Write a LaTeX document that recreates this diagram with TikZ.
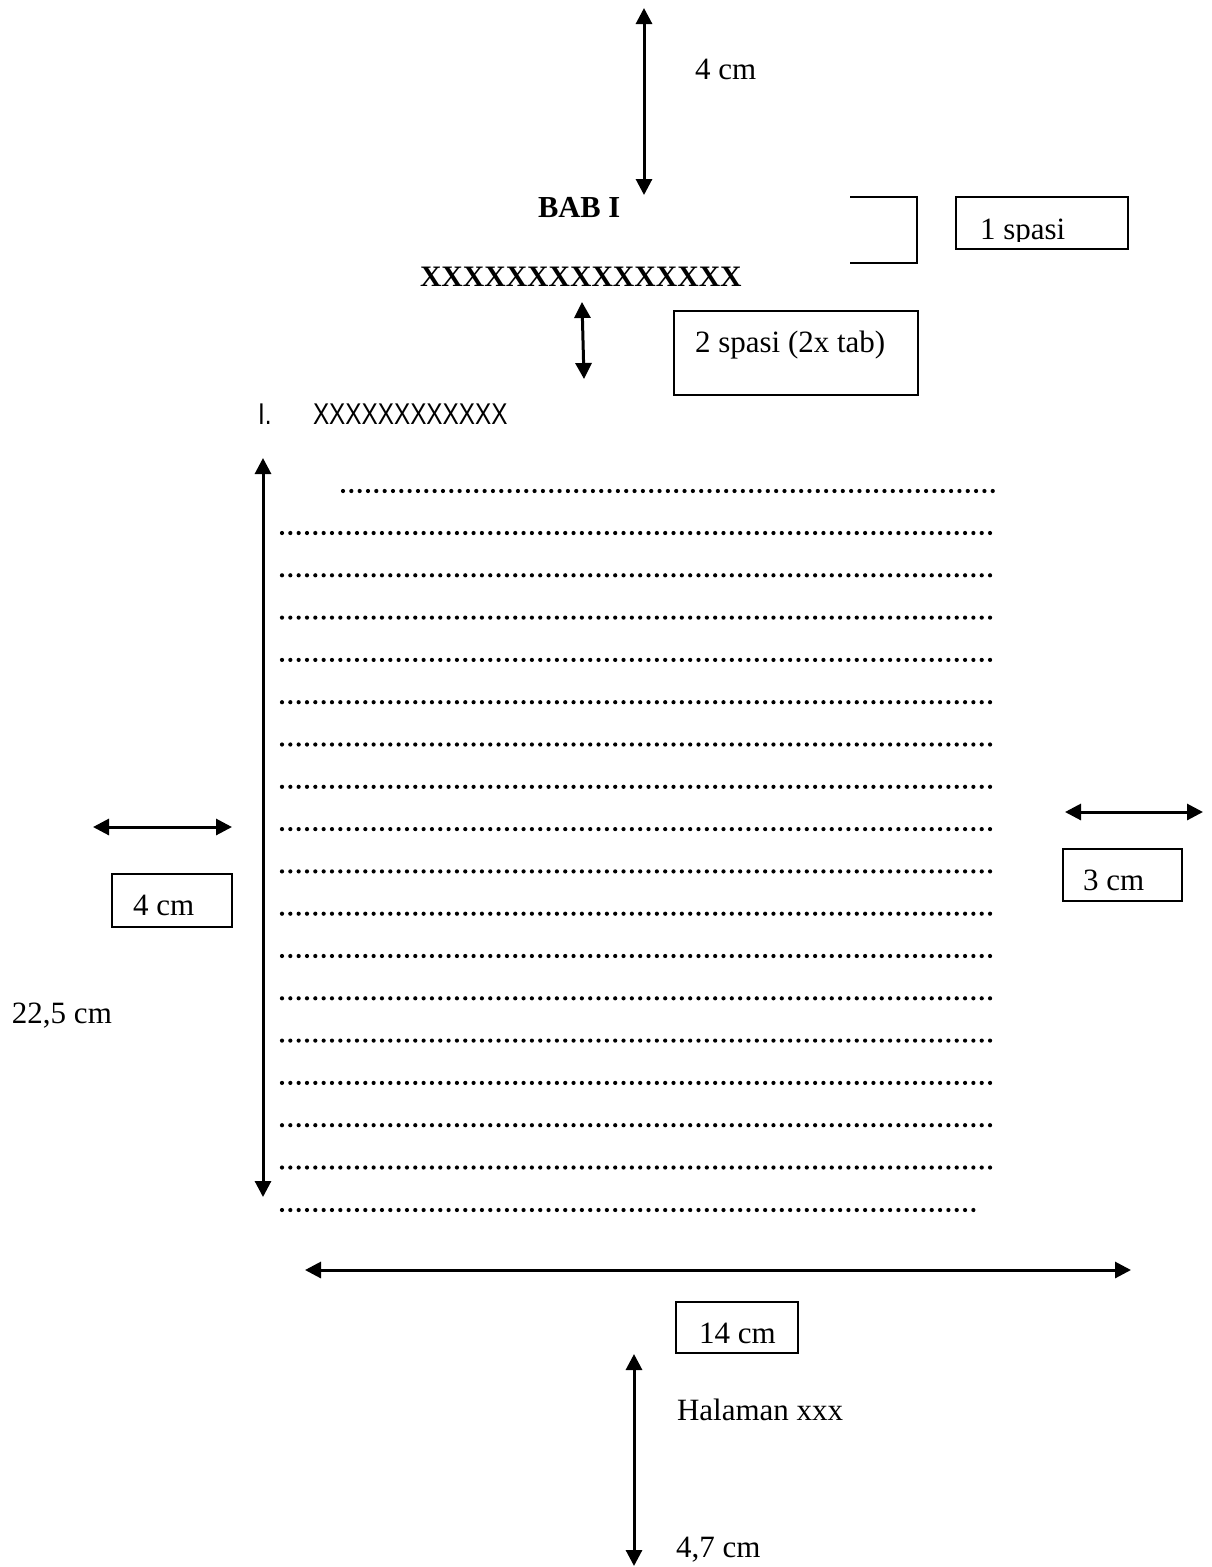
\documentclass[tikz,border=0pt]{standalone}
\usepackage{fontspec}
\usepackage{graphicx}
\setmainfont{Liberation Serif}
\newfontfamily\arialfont{Liberation Sans}
\usetikzlibrary{arrows.meta}
\tikzset{
  dimarrow/.style={line width=3pt, {Triangle[length=16pt,width=16pt]}-{Triangle[length=16pt,width=16pt]}},
  box/.style={draw, line width=1.5pt, inner sep=0pt, outer sep=0pt, anchor=north west},
  lbl/.style={anchor=base west, inner sep=0pt, outer sep=0pt, font=\fontsize{31}{36}\selectfont},
  bold/.style={anchor=base west, inner sep=0pt, outer sep=0pt, font=\fontsize{30.5}{36}\selectfont\bfseries},
  sanslbl/.style={anchor=base west, inner sep=0pt, outer sep=0pt, font=\fontsize{30}{34}\selectfont\arialfont},
  dotrow/.style={line width=4.2pt, line cap=round, dash pattern=on 0pt off 8.33pt},
  bracket/.style={line width=1.5pt},
}
\begin{document}
\begin{tikzpicture}[x=1pt, y=-1pt]
\useasboundingbox[fill=white] (0,0) rectangle (1212,1567);

% ---- top margin arrow ----
\coordinate (topA) at (644,8);
\coordinate (topB) at (644,195);
\draw[dimarrow] (topA) -- (topB);
\node[lbl] (top4cm) at (695,79) {4 cm};

% ---- title ----
\node[bold] (bab) at (538,217) {BAB I};
\node[bold, font=\fontsize{29.7}{36}\selectfont\bfseries] (judul) at (420,286) {XXXXXXXXXXXXXXX};

% ---- bracket and 1 spasi ----
\coordinate (brA) at (850,197);
\coordinate (brB) at (917,197);
\coordinate (brC) at (917,263);
\coordinate (brD) at (850,263);
\draw[bracket] (brA) -- (brB) -- (brC) -- (brD);
\node[box, minimum width=172pt, minimum height=52pt] (box1) at (956,197) {};
\begin{scope}
  \clip (956,197) rectangle (1128,241);
  \node[lbl] (spasi1) at (980,239) {1 spasi};
\end{scope}

% ---- 2 spasi ----
\coordinate (smA) at (582,302);
\coordinate (smB) at (584,379);
\draw[dimarrow] (smA) -- (smB);
\node[box, minimum width=244pt, minimum height=84pt] (box2) at (674,311) {};
\node[lbl] (spasi2) at (695,352) {2 spasi (2x tab)};

% ---- subheading ----
\node[sanslbl] (num) at (258,424) {\scalebox{0.81}[1]{I.}};
\node[sanslbl] (sub) at (313,424) {\scalebox{0.81}[1]{XXXXXXXXXXXX}};

% ---- tall arrow ----
\coordinate (tallA) at (263,458);
\coordinate (tallB) at (263,1197);
\draw[dimarrow] (tallA) -- (tallB);
\node[lbl] (h225) at (12,1023) {22,5 cm};

% ---- dotted text rows ----
\draw[dotrow] (343,491) -- (994,491);
\foreach \k in {0,...,15} {
  \draw[dotrow] (282,533+42.3*\k) -- (998,533+42.3*\k);
}
\draw[dotrow] (282,1210) -- (981,1210);

% ---- left margin ----
\coordinate (lA) at (93,827);
\coordinate (lB) at (232,827);
\draw[dimarrow] (lA) -- (lB);
\node[box, minimum width=120pt, minimum height=53pt] (box4) at (112,874) {};
\node[lbl] (l4cm) at (133,915) {4 cm};

% ---- right margin ----
\coordinate (rA) at (1065,812);
\coordinate (rB) at (1203,812);
\draw[dimarrow] (rA) -- (rB);
\node[box, minimum width=119pt, minimum height=52pt] (box3) at (1063,849) {};
\node[lbl] (r3cm) at (1083,890) {3 cm};

% ---- width ----
\coordinate (wA) at (305,1270);
\coordinate (wB) at (1131,1270);
\draw[dimarrow] (wA) -- (wB);
\node[box, minimum width=122pt, minimum height=51pt] (box14) at (676,1302) {};
\node[lbl] (w14) at (699,1343) {14 cm};

% ---- bottom margin ----
\coordinate (bA) at (634,1354);
\coordinate (bB) at (634,1566);
\draw[dimarrow] (bA) -- (bB);
\node[lbl] (hal) at (677,1420) {Halaman xxx};
\node[lbl] (b47) at (676,1557) {4,7 cm};
\end{tikzpicture}
\end{document}
